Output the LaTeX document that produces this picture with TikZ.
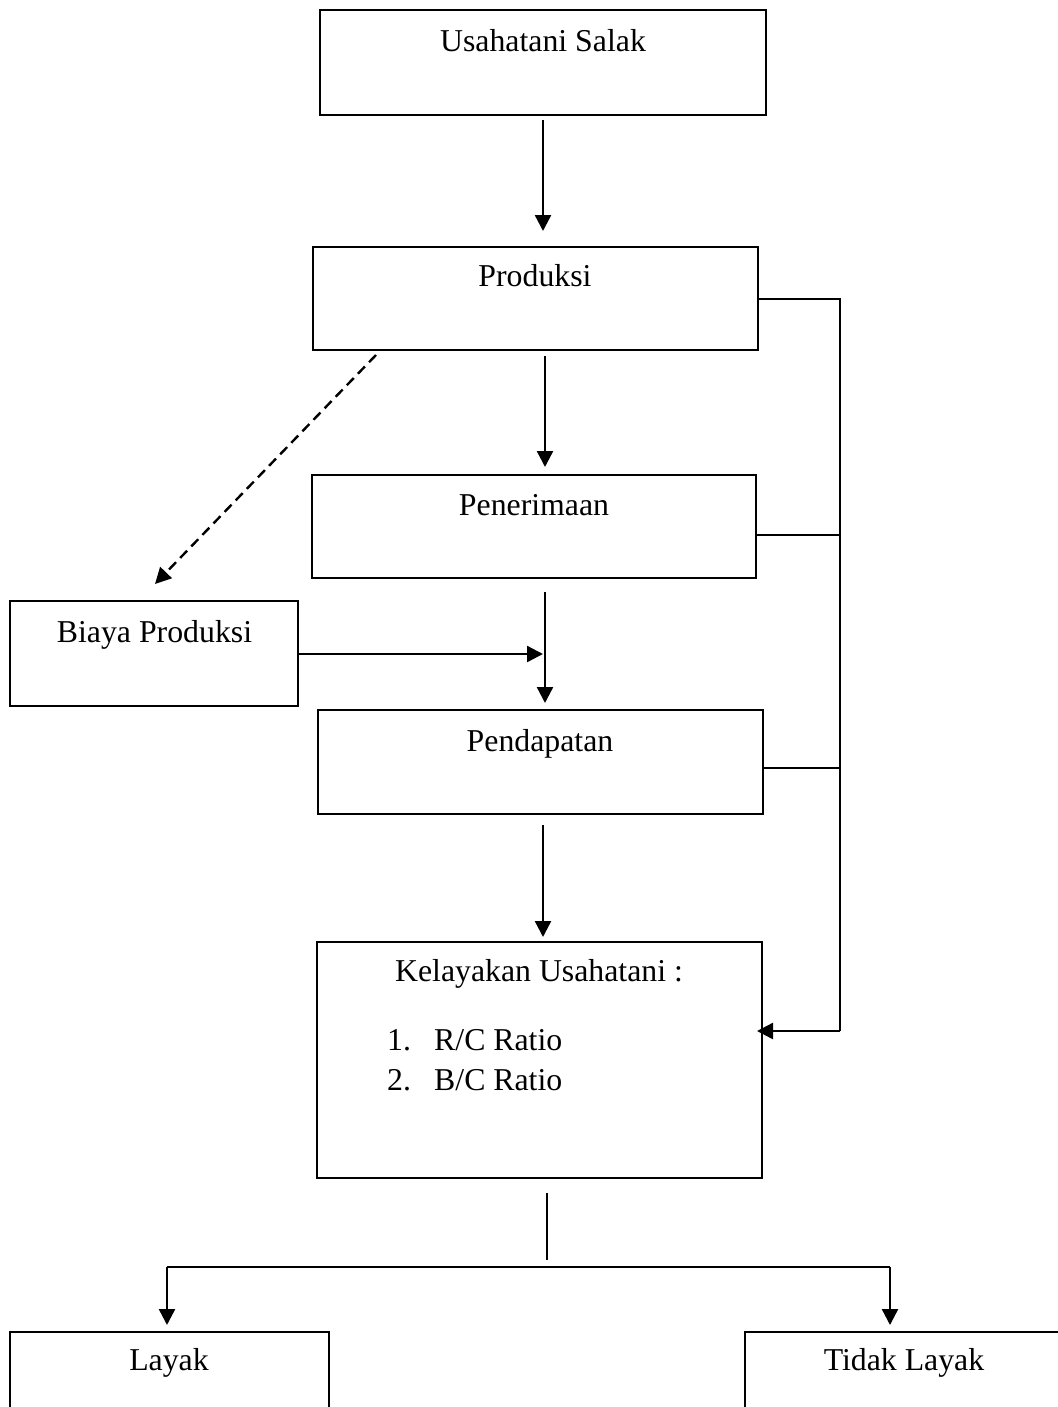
\documentclass[tikz,border=0pt]{standalone}
\usepackage{fontspec}
\setmainfont{Liberation Serif}
\usetikzlibrary{arrows.meta}
\begin{document}
\begin{tikzpicture}[x=1pt,y=-1pt,
  box/.style={draw, line width=2pt, inner sep=0pt},
  txt/.style={inner sep=0pt, anchor=base, font=\fontsize{31.8pt}{38pt}\selectfont},
  ln/.style={line width=2pt},
  arr/.style={line width=2.4pt, -{Triangle[length=16pt,width=16pt]}},
  dasharr/.style={line width=2.4pt, dash pattern=on 10pt off 6pt, -{Triangle[length=16pt,width=16pt]}}
]
\useasboundingbox (0,0) rectangle (1057,1407);
\fill[white] (0,0) rectangle (1057,1407);

% boxes
\node[box, minimum width=446pt, minimum height=105pt] (salak) at (543,62.5) {};
\node[box, minimum width=445pt, minimum height=103pt] (prod) at (535.5,298.5) {};
\node[box, minimum width=444pt, minimum height=103pt] (pen) at (534,526.5) {};
\node[box, minimum width=288pt, minimum height=105pt] (biaya) at (154,653.5) {};
\node[box, minimum width=445pt, minimum height=104pt] (pend) at (540.5,762) {};
\node[box, minimum width=445pt, minimum height=236pt] (kel) at (539.5,1060) {};
\node[box, minimum width=319pt, minimum height=108pt] (layak) at (169.5,1386) {};
\node[box, minimum width=325pt, minimum height=108pt] (tidak) at (907.5,1386) {};

% texts
\node[txt] (tsalak) at (543,52) {Usahatani Salak};
\node[txt] (tprod) at (535,286) {Produksi};
\node[txt] (tpen) at (534,515) {Penerimaan};
\node[txt] (tbiaya) at (154.5,642) {Biaya Produksi};
\node[txt] (tpend) at (540,751) {Pendapatan};
\node[txt] (tkel) at (539,981) {Kelayakan Usahatani :};
\node[txt, anchor=base west] (n1) at (387,1050) {1.};
\node[txt, anchor=base west] (i1) at (434,1050) {R/C Ratio};
\node[txt, anchor=base west] (n2) at (387,1090) {2.};
\node[txt, anchor=base west] (i2) at (434,1090) {B/C Ratio};
\node[txt] (tlayak) at (169,1370) {Layak};
\node[txt] (ttidak) at (904,1370) {Tidak Layak};

% coordinates
\coordinate (c1) at (543,120);
\coordinate (c2) at (545,356);
\coordinate (c3) at (545,592);
\coordinate (mid) at (543,654);
\coordinate (c4) at (543,825);
\coordinate (busT) at (840,299);
\coordinate (busP) at (840,535);
\coordinate (busD) at (840,768);
\coordinate (busB) at (840,1031);
\coordinate (kin) at (757,1031);
\coordinate (ds) at (376,355);
\coordinate (de) at (155,584);
\coordinate (sT) at (547,1193);
\coordinate (sB) at (547,1260);
\coordinate (hL) at (167,1267);
\coordinate (hR) at (890,1267);

% connectors
\draw[arr, shorten >=15pt] (c1) -- (c1 |- prod.north);
\draw[arr, shorten >=7pt] (c2) -- (c2 |- pen.north);
\draw[arr, shorten >=6pt] (c3) -- (c3 |- pend.north);
\draw[arr] (biaya.east |- mid) -- (mid);
\draw[arr, shorten >=4pt] (c4) -- (c4 |- kel.north);
\draw[dasharr] (ds) -- (de);

\draw[ln] (prod.east |- busT) -- (busT) -- (busB);
\draw[ln] (pen.east |- busP) -- (busP);
\draw[ln] (pend.east |- busD) -- (busD);
\draw[arr] (busB) -- (kin);

\draw[line width=1.5pt] (sT) -- (sB);
\draw[ln] (hL) -- (hR);
\draw[arr, shorten >=6pt] (hL) -- (hL |- layak.north);
\draw[arr, shorten >=6pt] (hR) -- (hR |- tidak.north);
\end{tikzpicture}
\end{document}
